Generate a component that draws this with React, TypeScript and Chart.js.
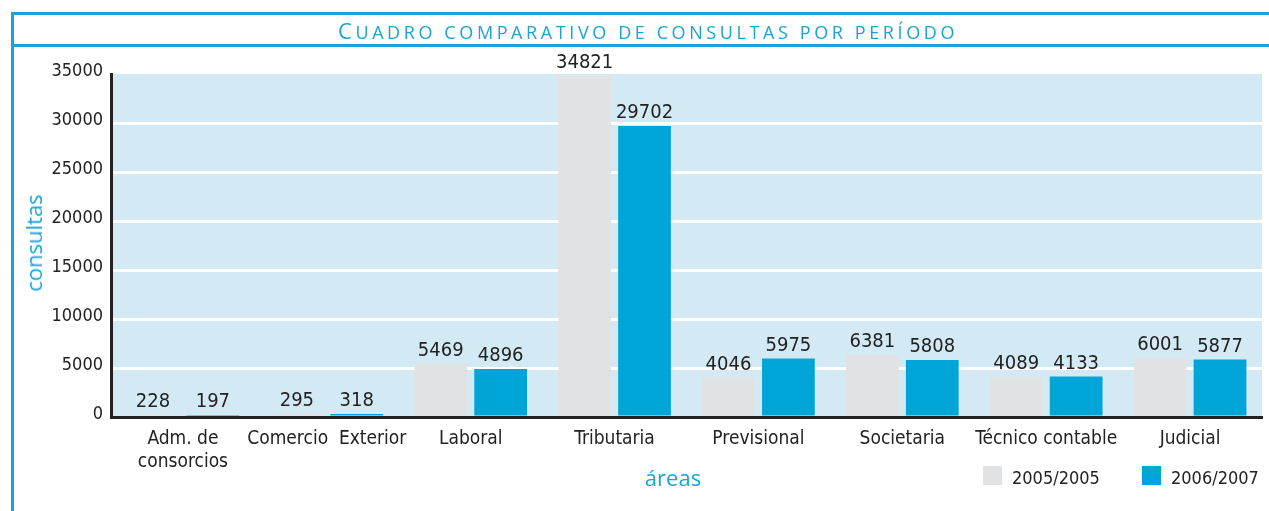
import React, { useEffect, useRef } from "react";
import { Chart, registerables } from "chart.js";

Chart.register(...registerables);

const categories: (string | string[])[] = [
  ["Adm. de", "consorcios"],
  "Comercio  Exterior",
  "Laboral",
  "Tributaria",
  "Previsional",
  "Societaria",
  "Técnico contable",
  "Judicial",
];
const series2005 = [228, 295, 5469, 34821, 4046, 6381, 4089, 6001];
const series2006 = [197, 318, 4896, 29702, 5975, 5808, 4133, 5877];
const seriesNames = ["2005/2005", "2006/2007"];
const yMin = 0;
const yMax = 35000;
const yStep = 5000;

const TITLE = "Cuadro comparativo de consultas por período";
const Y_TITLE = "consultas";
const X_TITLE = "áreas";

const BLUE = "#00A5D8";
const GRAY = "#E1E2E4";
const ACCENT = "#1BA3D8";
const PLOT_BG = "#D3EAF4";
const TEXT = "#222222";
const LABEL_FONT = '"DejaVu Sans Condensed", "DejaVu Sans", sans-serif';

const plotBg = {
  id: "plotBg",
  beforeDraw(chart: any) {
    const { ctx, chartArea: a } = chart;
    ctx.save();
    ctx.fillStyle = PLOT_BG;
    ctx.fillRect(a.left, a.top, a.right - a.left, a.bottom - a.top);
    ctx.restore();
  },
};

const valueLabels = {
  id: "valueLabels",
  afterDatasetsDraw(chart: any) {
    const { ctx } = chart;
    ctx.save();
    ctx.font = `20px ${LABEL_FONT}`;
    ctx.fillStyle = TEXT;
    ctx.textAlign = "center";
    ctx.textBaseline = "bottom";
    chart.data.datasets.forEach((ds: any, i: number) => {
      const meta = chart.getDatasetMeta(i);
      meta.data.forEach((el: any, j: number) => {
        ctx.fillText(String(ds.data[j]), el.x, el.y - 3);
      });
    });
    ctx.restore();
  },
};

export default function App() {
  const ref = useRef<HTMLCanvasElement | null>(null);

  useEffect(() => {
    if (!ref.current) return;
    const chart = new Chart(ref.current, {
      type: "bar",
      data: {
        labels: categories,
        datasets: [
          {
            label: seriesNames[0],
            data: series2005,
            backgroundColor: GRAY,
            categoryPercentage: 0.833,
            barPercentage: 0.88,
          },
          {
            label: seriesNames[1],
            data: series2006,
            backgroundColor: BLUE,
            categoryPercentage: 0.833,
            barPercentage: 0.88,
          },
        ],
      },
      options: {
        responsive: false,
        animation: false,
        layout: { padding: { left: 0, right: 7, top: 74, bottom: 0 } },
        plugins: {
          legend: { display: false },
          title: { display: false },
          tooltip: { enabled: false },
        },
        scales: {
          x: {
            grid: { display: false, drawTicks: false },
            border: { display: true, color: TEXT, width: 3 },
            ticks: {
              color: TEXT,
              font: { family: LABEL_FONT, size: 19 },
              padding: 11,
              maxRotation: 0,
              autoSkip: false,
            },
            afterFit(scale: any) {
              scale.height = 94;
            },
          },
          y: {
            min: yMin,
            max: yMax,
            grid: {
              drawTicks: false,
              lineWidth: 3,
              color: (c: any) =>
                c.tick && (c.tick.value === yMin || c.tick.value === yMax)
                  ? "rgba(0,0,0,0)"
                  : "#FFFFFF",
            },
            border: { display: true, color: TEXT, width: 3 },
            ticks: {
              stepSize: yStep,
              color: TEXT,
              font: { family: LABEL_FONT, size: 18 },
              padding: 8,
              labelOffset: -3,
              callback: (v: any) => String(v),
            },
            afterFit(scale: any) {
              scale.width = 111;
            },
          },
        },
      },
      plugins: [plotBg, valueLabels],
    });
    return () => chart.destroy();
  }, []);

  const wrap: React.CSSProperties = {
    position: "absolute",
    left: 0,
    top: 0,
    width: 1269,
    height: 511,
    background: "#FFFFFF",
    overflow: "hidden",
  };

  return (
    <div style={wrap}>
      <canvas
        ref={ref}
        width={1269}
        height={511}
        style={{ position: "absolute", left: 0, top: 0, width: 1269, height: 511 }}
      />
      {/* frame lines */}
      <div style={{ position: "absolute", left: 11, top: 12, width: 1258, height: 3, background: ACCENT }} />
      <div style={{ position: "absolute", left: 11, top: 44, width: 1258, height: 3, background: ACCENT }} />
      <div style={{ position: "absolute", left: 11, top: 12, width: 2.5, height: 499, background: ACCENT }} />
      {/* title */}
      <div
        style={{
          position: "absolute",
          left: 648,
          top: 16,
          height: 28,
          transform: "translateX(-50%)",
          whiteSpace: "nowrap",
          fontFamily: '"Open Sans", sans-serif',
          lineHeight: "28px",
          letterSpacing: 3.6,
          color: ACCENT,
        }}
      >
        <span style={{ fontSize: 22 }}>{TITLE[0]}</span>
        <span style={{ fontSize: 18, textTransform: "uppercase" }}>{TITLE.slice(1)}</span>
      </div>
      {/* y title */}
      <div
        style={{
          position: "absolute",
          left: 33,
          top: 243,
          transform: "translate(-50%, -50%) rotate(-90deg)",
          whiteSpace: "nowrap",
          fontFamily: '"Open Sans", sans-serif',
          fontSize: 22,
          lineHeight: "22px",
          color: ACCENT,
        }}
      >
        {Y_TITLE}
      </div>
      {/* x title */}
      <div
        style={{
          position: "absolute",
          left: 673,
          top: 477,
          transform: "translate(-50%, -50%)",
          whiteSpace: "nowrap",
          fontFamily: '"Open Sans", sans-serif',
          fontSize: 22,
          lineHeight: "22px",
          color: ACCENT,
        }}
      >
        {X_TITLE}
      </div>
      {/* legend */}
      {seriesNames.map((name, i) => (
        <div
          key={name}
          style={{
            position: "absolute",
            left: i === 0 ? 983 : 1142,
            top: 466,
            display: "flex",
            alignItems: "center",
            whiteSpace: "nowrap",
          }}
        >
          <div style={{ width: 19, height: 19, background: i === 0 ? GRAY : BLUE }} />
          <div
            style={{
              marginLeft: 10,
              fontFamily: LABEL_FONT,
              fontSize: 18,
              lineHeight: "19px",
              color: TEXT,
              position: "relative",
              top: 2,
            }}
          >
            {name}
          </div>
        </div>
      ))}
    </div>
  );
}
